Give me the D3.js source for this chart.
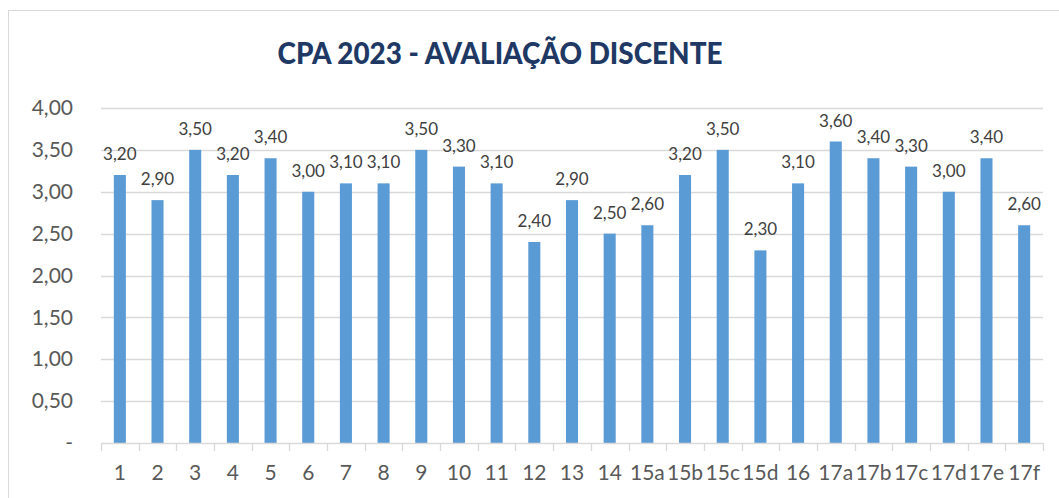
<!DOCTYPE html>
<html>
<head>
<meta charset="utf-8">
<script src="https://cdn.jsdelivr.net/npm/d3@7"></script>
<style>
  body { margin: 0; background: #fff; }
  text { font-family: Lato, "Open Sans", sans-serif; }
</style>
</head>
<body>
<svg id="chart" width="1059" height="498"></svg>
<script>
    (function () {
        'use strict'

        var categories = ['1', '2', '3', '4', '5', '6', '7', '8', '9', '10', '11', '12', '13', '14',
            '15a', '15b', '15c', '15d', '16', '17a', '17b', '17c', '17d', '17e', '17f']
        var values = [3.2, 2.9, 3.5, 3.2, 3.4, 3.0, 3.1, 3.1, 3.5, 3.3, 3.1, 2.4, 2.9, 2.5,
            2.6, 3.2, 3.5, 2.3, 3.1, 3.6, 3.4, 3.3, 3.0, 3.4, 2.6]
        var yTicks = [0, 0.5, 1, 1.5, 2, 2.5, 3, 3.5, 4]

        var fmt = function (v) {
            return v === 0 ? '-' : v.toFixed(2).replace('.', ',')
        }

        var margin = { top: 108, right: 16, bottom: 55, left: 101 },
            width = 1059 - margin.left - margin.right,
            height = 498 - margin.top - margin.bottom

        var svg = d3.select('#chart')

        // chart border
        svg.append('rect')
            .attr('x', 8.5).attr('y', 10.5)
            .attr('width', 1070).attr('height', 500)
            .attr('fill', 'none')
            .attr('stroke', '#d9d9d9')

        var title = svg.append('text')
            .attr('x', 500).attr('y', 64)
            .attr('text-anchor', 'middle')
            .style('font-size', '31px')
            .style('font-weight', '900')
            .attr('fill', '#203864')
            .text('CPA 2023 - AVALIAÇÃO DISCENTE')
        var tw = title.node().getComputedTextLength()
        if (Math.abs(tw - 445) > 4) title.attr('textLength', 445).attr('lengthAdjust', 'spacingAndGlyphs')

        var g = svg.append('g')
            .attr('transform', 'translate(' + margin.left + ',' + margin.top + ')')

        var x = d3.scaleBand().domain(categories).range([0, width]).paddingInner(0.68).paddingOuter(0.34)
        var y = d3.scaleLinear().domain([0, 4]).range([height, 0])

        // gridlines
        g.append('g')
            .selectAll('line')
            .data(yTicks.filter(function (d) { return d > 0 }))
            .enter().append('line')
            .attr('x1', 0).attr('x2', width)
            .attr('y1', function (d) { return Math.round(y(d)) + 0.5 })
            .attr('y2', function (d) { return Math.round(y(d)) + 0.5 })
            .attr('stroke', '#d9d9d9')
            .attr('stroke-width', 1.3)

        // y axis labels
        var yAxis = g.append('g')
            .call(d3.axisLeft(y).tickValues(yTicks).tickFormat(fmt).tickSize(0).tickPadding(28))
        yAxis.select('.domain').remove()
        yAxis.selectAll('text')
            .style('font-size', '21px')
            .attr('fill', '#595959')

        // bars
        g.append('g')
            .selectAll('rect')
            .data(values)
            .enter().append('rect')
            .attr('x', function (d, i) { return x(categories[i]) })
            .attr('y', function (d) { return y(d) })
            .attr('width', x.bandwidth())
            .attr('height', function (d) { return height - y(d) })
            .attr('fill', '#5b9bd5')

        // data labels
        g.append('g')
            .selectAll('text')
            .data(values)
            .enter().append('text')
            .attr('x', function (d, i) { return x(categories[i]) + x.bandwidth() / 2 })
            .attr('y', function (d) { return y(d) - 15 })
            .attr('text-anchor', 'middle')
            .style('font-size', '17px')
            .attr('fill', '#404040')
            .text(fmt)

        // x axis
        var xAxis = g.append('g')
            .attr('transform', 'translate(0,' + height + ')')
            .call(d3.axisBottom(x).tickSize(0).tickPadding(22))
        xAxis.select('.domain').attr('stroke', '#d9d9d9').attr('stroke-width', 1.3)
        xAxis.selectAll('text')
            .style('font-size', '21px')
            .attr('fill', '#595959')

        // category boundary ticks
        xAxis.append('g')
            .selectAll('line')
            .data(d3.range(categories.length + 1))
            .enter().append('line')
            .attr('x1', function (i) { return Math.round(i * width / categories.length) + 0.5 })
            .attr('x2', function (i) { return Math.round(i * width / categories.length) + 0.5 })
            .attr('y1', 0).attr('y2', 8)
            .attr('stroke', '#d9d9d9')
            .attr('stroke-width', 1.3)

    })()
</script>
</body>
</html>
